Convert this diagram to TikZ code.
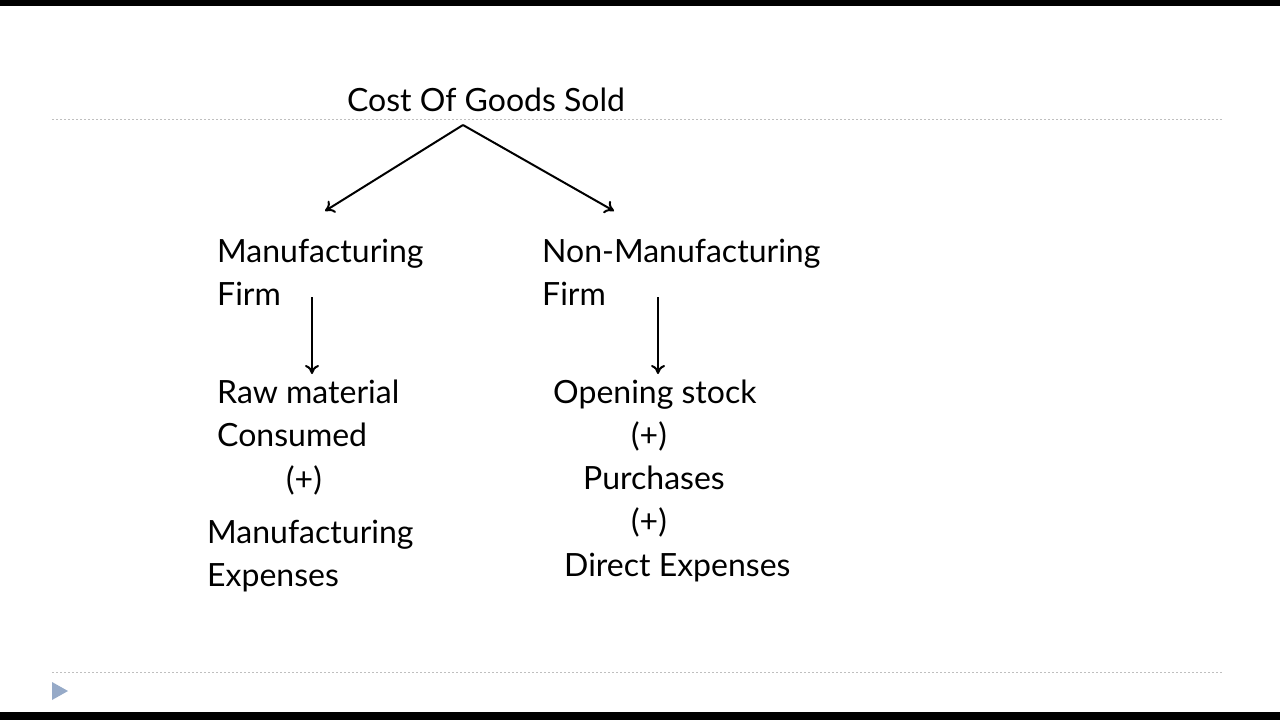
\documentclass[tikz,border=0pt]{standalone}
\usepackage{fontspec}
\setmainfont{Lato}
\usetikzlibrary{arrows.meta}
\definecolor{tri}{RGB}{150,170,200}
\begin{document}
\begin{tikzpicture}[x=1pt,y=-1pt,
  t/.style={anchor=base west,inner sep=0pt,font=\fontsize{32}{38}\selectfont},
  tc/.style={anchor=base,inner sep=0pt,font=\fontsize{32}{38}\selectfont},
  arr/.style={line width=2pt,-{To[length=9pt,width=14pt]}},
  dl/.style={gray!50,dash pattern=on 2pt off 2pt,line width=0.6pt}]
\useasboundingbox (0,0) rectangle (1280,720);
\fill[white] (0,0) rectangle (1280,720);
\fill[black] (0,0) rectangle (1280,6);
\fill[black] (0,712) rectangle (1280,720);
\draw[dl] (52,119) -- (1222,119);
\draw[dl] (52,672) -- (1222,672);
\fill[tri] (52,682) -- (68,691) -- (52,700) -- cycle;
\node[tc] (cogs) at (486,111) {Cost Of Goods Sold};
\coordinate (top) at (463,125);
\coordinate (lend) at (325,211);
\coordinate (rend) at (614,211);
\draw[arr] (top) -- (lend);
\draw[arr] (top) -- (rend);
\node[t] (m1) at (217,262) {Manufacturing};
\node[t] (m2) at (217,305) {Firm};
\coordinate (la) at (312,297); \coordinate (lb) at (312,374);
\draw[arr] (la) -- (lb);
\node[t] (r1) at (217,403) {Raw material};
\node[t] (r2) at (217,446) {Consumed};
\node[tc] (p1) at (304,490) {(+)};
\node[t] (e1) at (207,543) {Manufacturing};
\node[t] (e2) at (207,586) {Expenses};
\node[t] (n1) at (542,262) {Non-Manufacturing};
\node[t] (n2) at (542,305) {Firm};
\coordinate (ra) at (658,297); \coordinate (rb) at (658,374);
\draw[arr] (ra) -- (rb);
\node[t] (o1) at (553,403) {Opening stock};
\node[tc] (p2) at (649,446) {(+)};
\node[t] (pu) at (583,489) {Purchases};
\node[tc] (p3) at (649,532) {(+)};
\node[t] (de) at (564,576) {Direct Expenses};
\end{tikzpicture}
\end{document}
